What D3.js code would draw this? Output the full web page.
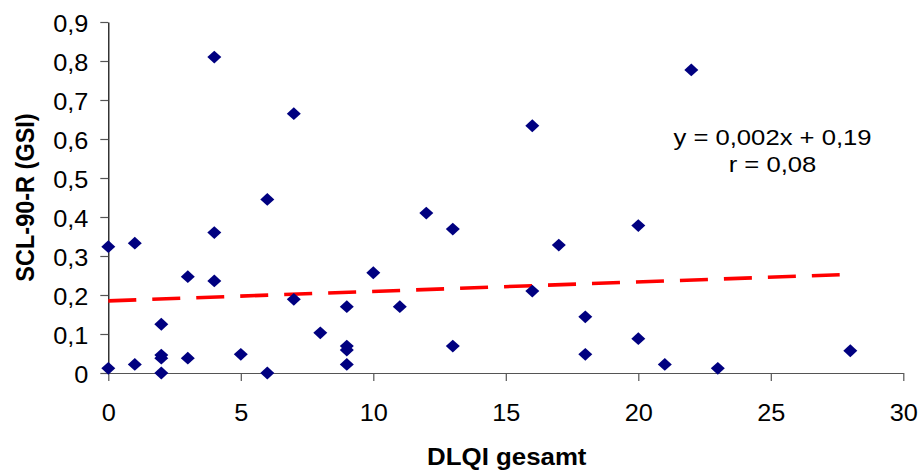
<!DOCTYPE html>
<html>
<head>
<meta charset="utf-8">
<script src="https://cdn.jsdelivr.net/npm/d3@7"></script>
<style>
  html, body { margin: 0; padding: 0; background: #fff; }
  svg { display: block; }
  text { font-family: "Liberation Sans", Arial, sans-serif; fill: #000; }
</style>
</head>
<body>
<svg id="chart" width="920" height="472"></svg>
<script>
// ---- data ----
const dlqi = [0, 0, 1, 1, 2, 2, 2, 2, 3, 3, 4, 4, 4, 5, 6, 6, 7, 7, 8, 9, 9, 9, 9, 10, 11, 12, 13, 13, 16, 16, 17, 18, 18, 20, 20, 21, 22, 23, 28];
const gsi  = [0.324, 0.012, 0.333, 0.022, 0.125, 0.046, 0.038, 0.0, 0.247, 0.038, 0.81, 0.36, 0.236, 0.048, 0.445, 0.0, 0.665, 0.189, 0.103, 0.17, 0.069, 0.059, 0.022, 0.257, 0.17, 0.41, 0.369, 0.069, 0.634, 0.21, 0.328, 0.144, 0.048, 0.378, 0.088, 0.022, 0.777, 0.012, 0.057];
const trendX = [0, 27.6];
const trendY = [0.185, 0.252];
const xTicks = [0, 5, 10, 15, 20, 25, 30];
const xTickLabels = ["0", "5", "10", "15", "20", "25", "30"];
const yTicks = [0, 0.1, 0.2, 0.3, 0.4, 0.5, 0.6, 0.7, 0.8, 0.9];
const yTickLabels = ["0", "0,1", "0,2", "0,3", "0,4", "0,5", "0,6", "0,7", "0,8", "0,9"];
const xTitle = "DLQI gesamt";
const yTitle = "SCL-90-R (GSI)";
const equationLines = ["y = 0,002x + 0,19", "r = 0,08"];

// ---- layout ----
const svg = d3.select("#chart");
const x = d3.scaleLinear().domain([0, 30]).range([108.3, 903.3]);
const y = d3.scaleLinear().domain([0, 0.9]).range([373, 22]);
const SX = 1.1; // horizontal glyph stretch seen in the reference

// x axis
const xAxis = svg.append("g")
  .attr("transform", `translate(0,${y(0)})`)
  .call(d3.axisBottom(x).tickValues(xTicks)
    .tickFormat((d, i) => xTickLabels[i]).tickSize(8).tickSizeOuter(0).tickPadding(14));
xAxis.select(".domain").attr("stroke", "#555").attr("stroke-width", 1.2);
xAxis.selectAll(".tick line").attr("stroke", "#555").attr("stroke-width", 1.2);
xAxis.selectAll(".tick text")
  .attr("font-size", 23).attr("font-family", "Liberation Sans, Arial, sans-serif")
  .attr("fill", "#000").attr("dy", "0.71em").attr("y", 32)
  .attr("transform", `scale(${SX},1)`);

// y axis
const yAxis = svg.append("g")
  .attr("transform", `translate(${x(0)},0)`)
  .call(d3.axisLeft(y).tickValues(yTicks)
    .tickFormat((d, i) => yTickLabels[i]).tickSize(8).tickSizeOuter(0).tickPadding(12));
yAxis.select(".domain").attr("stroke", "#000").attr("stroke-width", 1.2);
yAxis.selectAll(".tick line").attr("stroke", "#555").attr("stroke-width", 1.2);
yAxis.selectAll(".tick text")
  .attr("font-size", 23).attr("font-family", "Liberation Sans, Arial, sans-serif")
  .attr("fill", "#000").attr("x", -20 / SX).attr("dy", "0.42em")
  .attr("transform", `scale(${SX},1)`);

// trend line
const line = d3.line().x(d => x(d[0])).y(d => y(d[1]));
svg.append("path")
  .datum(trendX.map((v, i) => [v, trendY[i]]))
  .attr("d", line)
  .attr("fill", "none")
  .attr("stroke", "#ff0000")
  .attr("stroke-width", 3.6)
  .attr("stroke-dasharray", "28,16");

// points (diamonds)
const hw = 7, hh = 6.4;
svg.append("g").selectAll("path")
  .data(dlqi.map((v, i) => [v, gsi[i]]))
  .join("path")
  .attr("transform", d => `translate(${x(d[0])},${y(d[1])})`)
  .attr("d", `M0,${-hh}L${hw},0L0,${hh}L${-hw},0Z`)
  .attr("fill", "#000080");

// axis titles
svg.append("text")
  .attr("transform", `translate(${(x(0) + x(30)) / 2 + 1},465) scale(${SX},1)`)
  .attr("text-anchor", "middle")
  .attr("font-size", 23.5).attr("font-weight", "bold")
  .text(xTitle);

svg.append("text")
  .attr("transform", `translate(33.5,197.5) rotate(-90) scale(1,1.12)`)
  .attr("text-anchor", "middle")
  .attr("font-size", 23.5).attr("font-weight", "bold")
  .text(yTitle);

// equation
svg.append("g").selectAll("text")
  .data(equationLines)
  .join("text")
  .attr("transform", (d, i) => `translate(772.5,${145 + i * 27.3}) scale(${SX + 0.04},1)`)
  .attr("text-anchor", "middle")
  .attr("font-size", 22.5)
  .text(d => d);
</script>
</body>
</html>
